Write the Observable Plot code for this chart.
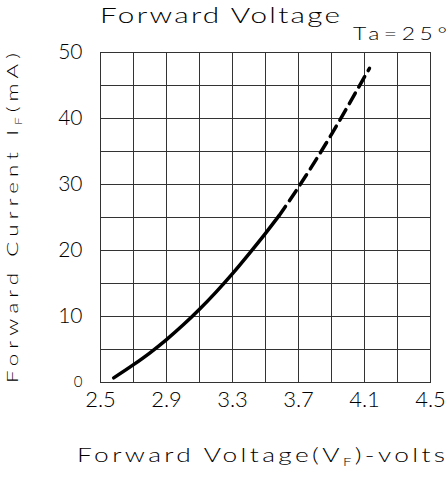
<!DOCTYPE html>
<html>
<head>
<meta charset="utf-8">
<script src="https://cdn.jsdelivr.net/npm/d3@7"></script>
<script src="https://cdn.jsdelivr.net/npm/@observablehq/plot@0.6"></script>
<style>
  html, body { margin: 0; padding: 0; background: #fff; }
  #chart { width: 448px; height: 477px; }
</style>
</head>
<body>
<div id="chart"></div>
<script>
// Solid part of the curve (measured)
const voltsSolid   = [2.58, 2.7, 2.8, 2.9, 3.0, 3.1, 3.2, 3.3, 3.4, 3.5, 3.58];
const currentSolid = [0.7, 2.7, 4.5, 6.5, 8.7, 11.1, 13.7, 16.5, 19.5, 22.6, 25.2];
// Dashed part of the curve (extrapolated)
const voltsDashed   = [3.58, 3.7, 3.8, 3.9, 4.0, 4.1, 4.13];
const currentDashed = [25.2, 29.6, 33.5, 37.6, 41.9, 46.3, 47.6];

const xGridValues = [2.5, 2.7, 2.9, 3.1, 3.3, 3.5, 3.7, 3.9, 4.1, 4.3, 4.5];
const yGridValues = [0, 5, 10, 15, 20, 25, 30, 35, 40, 45, 50];
const xTickValues = [2.5, 2.9, 3.3, 3.7, 4.1, 4.5];
const yTickValues = [10, 20, 30, 40, 50];
const yZeroTick = [0];

const titleText = "Forward Voltage";
const condText = "Ta=25°";

const solid = voltsSolid.map((v, i) => ({v, i: currentSolid[i]}));
const dashed = voltsDashed.map((v, i) => ({v, i: currentDashed[i]}));

const FONT = "Lato, DejaVu Sans, sans-serif";
const gridStroke = "#333";

const plot = Plot.plot({
  width: 448,
  height: 477,
  marginLeft: 100,
  marginRight: 18,
  marginTop: 52,
  marginBottom: 95,
  x: {domain: [2.5, 4.5]},
  y: {domain: [0, 50]},
  style: {fontFamily: FONT, color: "#000", background: "#fff"},
  marks: [
    Plot.gridX(xGridValues, {stroke: gridStroke, strokeOpacity: 1, strokeWidth: 1}),
    Plot.gridY(yGridValues, {stroke: gridStroke, strokeOpacity: 1, strokeWidth: 1}),
    Plot.frame({stroke: gridStroke, strokeWidth: 1}),
    Plot.axisX(xTickValues, {tickSize: 0, tickPadding: 9, fontSize: 22, fontWeight: 300, label: null, tickFormat: d => d.toFixed(1)}),
    Plot.axisY(yTickValues, {tickSize: 0, tickPadding: 18, fontSize: 21, fontWeight: 300, label: null}),
    Plot.axisY(yZeroTick, {tickSize: 0, tickPadding: 18, fontSize: 15, fontWeight: 300, label: null}),
    Plot.line(solid, {x: "v", y: "i", stroke: "#000", strokeWidth: 3.5, curve: "monotone-x"}),
    Plot.line(dashed, {x: "v", y: "i", stroke: "#000", strokeWidth: 3.5, curve: "monotone-x", strokeDasharray: "12,7"})
  ]
});

const svg = d3.select(plot);

// Text with wide CAD-like glyphs: horizontally stretched, spacing fitted to the measured width
function addText(x, y, size, length, sx, parts, rotate) {
  const t = svg.append("text")
    .attr("font-family", FONT)
    .attr("font-weight", 300)
    .attr("fill", "#000")
    .attr("text-anchor", "start")
    .attr("font-size", size)
    .attr("textLength", length / sx)
    .attr("lengthAdjust", "spacing")
    .attr("transform", `translate(${x},${y})${rotate ? " rotate(-90)" : ""} scale(${sx},1)`);
  parts.forEach(p => {
    const s = t.append("tspan").text(p.text);
    if (p.size) s.attr("font-size", p.size);
    if (p.dy) s.attr("dy", p.dy);
  });
  return t;
}

// Chart title
addText(100, 23, 22, 240, 1.35, [{text: titleText}]);
// Condition
addText(353, 40, 17, 94, 1.35, [{text: condText}]);
// X axis title
addText(77, 462, 19.5, 368, 1.35, [
  {text: "Forward Voltage(V"},
  {text: "F", size: 11, dy: 4},
  {text: ")-volts", size: 19.5, dy: -4}
]);
// Y axis title (rotated)
addText(18, 383, 16.5, 330, 1.35, [
  {text: "Forward Current I"},
  {text: "F", size: 10, dy: 4},
  {text: "(mA)", size: 16.5, dy: -4}
], true);

document.getElementById("chart").appendChild(plot);
</script>
</body>
</html>
